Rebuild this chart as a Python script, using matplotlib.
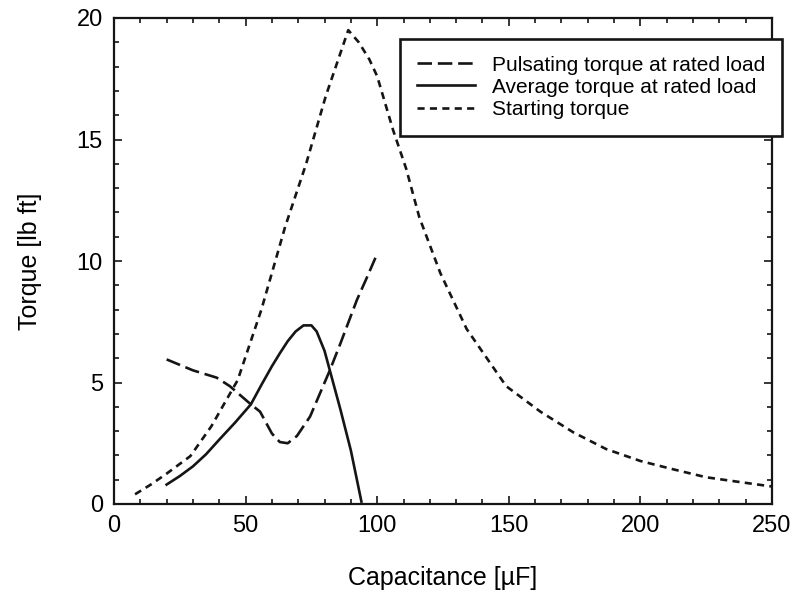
import numpy as np
import matplotlib.pyplot as plt
from matplotlib.ticker import MultipleLocator

# capacitance [uF] / torque [lb ft]
start_c = [8, 14, 20, 29, 37, 47, 56, 65, 73, 80.5, 89, 93, 97, 100, 106, 111, 116, 124,
           134, 149, 162, 174.5, 187, 200, 212, 225, 238, 250]
start_t = [0.4, 0.8, 1.25, 1.97, 3.2, 5.1, 8.0, 11.4, 14.0, 16.8, 19.5, 19.0, 18.3, 17.6,
           15.4, 13.8, 11.8, 9.5, 7.2, 4.85, 3.8, 2.95, 2.26, 1.77, 1.44, 1.1, 0.9, 0.72]

avg_c = [20, 25, 30, 35, 40, 46, 52, 56, 60, 63, 66, 69, 72, 75, 77, 80, 82, 86, 90, 94]
avg_t = [0.8, 1.15, 1.55, 2.05, 2.65, 3.35, 4.1, 4.9, 5.67, 6.2, 6.7, 7.1, 7.35, 7.35, 7.1,
         6.3, 5.5, 3.9, 2.2, 0.1]

puls_c = [20, 30, 39, 44, 52, 55.5, 60, 63, 66, 69.5, 74.5, 82, 86, 92.3, 96, 100]
puls_t = [5.95, 5.5, 5.2, 4.85, 4.1, 3.8, 2.9, 2.55, 2.5, 2.8, 3.6, 5.5, 6.6, 8.4, 9.3, 10.3]

labels = ['Pulsating torque at rated load', 'Average torque at rated load', 'Starting torque']

plt.rcParams['font.family'] = ['Liberation Sans', 'DejaVu Sans']

fig = plt.figure(figsize=(8.01, 5.99), dpi=100)
ax = fig.add_axes([114 / 801, 1 - 504 / 599, 658 / 801, 486 / 599])

lw = 1.9
ax.plot(puls_c, puls_t, color='#151515', lw=lw, dashes=(5.5, 2.2), label=labels[0])
ax.plot(avg_c, avg_t, color='#151515', lw=lw, label=labels[1])
ax.plot(start_c, start_t, color='#151515', lw=lw, dashes=(2.7, 2.0), label=labels[2])

ax.set_xlim(0, 250)
ax.set_ylim(0, 20)
ax.xaxis.set_major_locator(MultipleLocator(50))
ax.xaxis.set_minor_locator(MultipleLocator(10))
ax.yaxis.set_major_locator(MultipleLocator(5))
ax.yaxis.set_minor_locator(MultipleLocator(1))
ax.tick_params(which='both', direction='in', top=True, right=True, width=1.2, color='#151515')
ax.tick_params(which='major', length=6, pad=8, labelsize=17)
ax.tick_params(which='minor', length=3.8)
for s in ax.spines.values():
    s.set_linewidth(1.6)
    s.set_color('#151515')

ax.set_xlabel('Capacitance [µF]', fontsize=18, labelpad=21)
ax.set_ylabel('Torque [lb ft]', fontsize=18, labelpad=25)

leg = ax.legend(loc='upper left', bbox_to_anchor=(400 / 801, 1 - 39 / 599),
                bbox_transform=fig.transFigure, fontsize=15, frameon=True,
                fancybox=False, framealpha=1, edgecolor='#151515',
                handlelength=2.8, handletextpad=0.8, labelspacing=0.15,
                borderpad=0.8, borderaxespad=0)
leg.get_frame().set_linewidth(1.9)

plt.savefig('out.png', dpi=100)
